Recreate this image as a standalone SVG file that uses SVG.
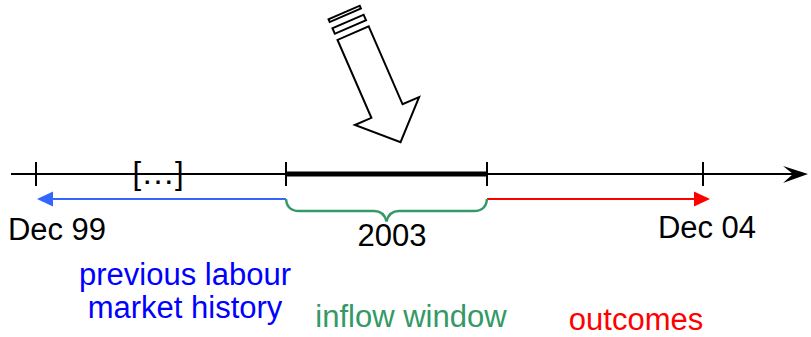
<svg xmlns="http://www.w3.org/2000/svg" width="811" height="337" viewBox="0 0 811 337">
<style>
text{font-family:"Liberation Sans",Arial,sans-serif;font-size:31px;text-anchor:middle}
.ax{stroke:#000;stroke-width:2;fill:none}
.big{fill:#fff;stroke:#000;stroke-width:2;stroke-linejoin:miter}
</style>
<rect width="811" height="337" fill="#fff"/>
<g id="connectors">
  <line class="ax" x1="11" y1="174" x2="795" y2="174"/>
  <path d="M808,174 L783,166 L793,174 L783,183 Z" fill="#000"/>
  <line x1="286" y1="174" x2="487" y2="174" stroke="#000" stroke-width="5"/>
  <line class="ax" x1="36" y1="162" x2="36" y2="186"/>
  <line class="ax" x1="286" y1="162" x2="286" y2="186"/>
  <line class="ax" x1="487" y1="162" x2="487" y2="186"/>
  <line class="ax" x1="703" y1="162" x2="703" y2="186"/>
  <line x1="286" y1="199" x2="50" y2="199" stroke="#3366ff" stroke-width="2"/>
  <path d="M37,199 L53,191.5 L53,206.5 Z" fill="#3366ff"/>
  <line x1="487" y1="199" x2="697" y2="199" stroke="#ff0000" stroke-width="2"/>
  <path d="M710,199 L694,191.5 L694,206.5 Z" fill="#ff0000"/>
  <path d="M286,199 Q287,211 299,211 L374,211 Q384,211 386.5,221.5 Q389,211 399,211 L474,211 Q486,211 487,199" fill="none" stroke="#339966" stroke-width="2.5"/>
</g>
<g id="bigArrow" transform="translate(352.7,32.2) rotate(66.5)">
  <polygon class="big" points="1,-17 86,-17 86,-35 120,0 86,35 86,17 1,17"/>
  <rect class="big" x="-11.7" y="-17" width="6" height="34"/>
  <rect class="big" x="-21.5" y="-17" width="3" height="34"/>
</g>
<g id="ellipsis"><text x="132.5" y="183.5" font-size="27" style="text-anchor:start">[<tspan x="141" font-size="34">…</tspan><tspan x="175">]</tspan></text></g>
<g id="dec99"><text x="57" y="240">Dec 99</text></g>
<g id="dec04"><text x="707" y="238">Dec 04</text></g>
<g id="y2003"><text x="392" y="246">2003</text></g>
<g id="history"><text x="185" y="285" fill="#0000ff">previous labour</text><text x="185" y="318" fill="#0000ff">market history</text></g>
<g id="inflow"><text x="411" y="327" fill="#339966">inflow window</text></g>
<g id="outcomes"><text x="636" y="330" fill="#ff0000">outcomes</text></g>
</svg>
